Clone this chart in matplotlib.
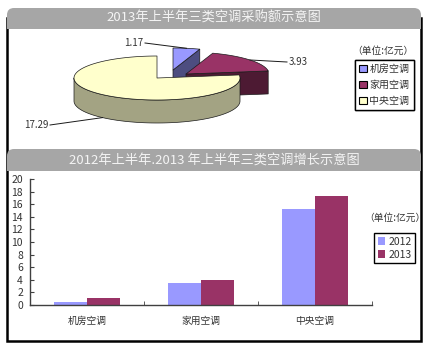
import matplotlib
matplotlib.use("Agg")
import matplotlib.pyplot as plt
import numpy as np
from matplotlib.patches import FancyBboxPatch, Patch, Polygon, Rectangle

plt.rcParams["font.family"] = ["Noto Sans CJK SC", "DejaVu Sans"]

# purchase amounts, unit: 亿元
types = ["机房空调", "家用空调", "中央空调"]
years = ["2012", "2013"]
amount_2012 = [0.5, 3.5, 15.3]
amount_2013 = [1.17, 3.93, 17.29]

pie_title = "2013年上半年三类空调采购额示意图"
bar_title = "2012年上半年.2013 年上半年三类空调增长示意图"
unit_text = "（单位:亿元）"

top_colors = ["#9999ff", "#993366", "#ffffcc"]
side_colors = ["#4d4d80", "#4d1a33", "#a3a383"]
bar_colors = ["#9999ff", "#993366"]
header_color = "#a6a6a6"
text_color = "#333333"

W, H = 429, 348
fig = plt.figure(figsize=(W / 100, H / 100), dpi=100)

# base axes in pixel units: frame, headers and the 3-D pie
base = fig.add_axes([0, 0, 1, 1])
base.set_xlim(0, W)
base.set_ylim(H, 0)
base.axis("off")

base.add_patch(Rectangle((7, 18), 414, 323, fill=False, ec="black", lw=1.8))
for y0, h, title in [(8, 21, pie_title), (149, 22, bar_title)]:
    base.add_patch(FancyBboxPatch((7, y0), 414, h, boxstyle="round,pad=0,rounding_size=7",
                                  fc=header_color, ec="none"))
    base.add_patch(Rectangle((7, y0 + h / 2), 414, h / 2, fc=header_color, ec="none"))
    base.text(214, y0 + h / 2, title, ha="center", va="center", fontsize=9.5, color="#f4f4f4")

# --- 3-D pie ---
cx, cy, rx, ry, depth = 157, 78, 83, 22, 23
explode = [(16, -8), (29, -4), (0, 0)]
fracs = np.array(amount_2013) / sum(amount_2013)
ends = 90 - np.cumsum(fracs) * 360
starts = np.r_[90, ends[:-1]]


def rim(theta, dx, dy, z=0.0):
    t = np.radians(np.atleast_1d(theta))
    return np.column_stack([cx + dx + rx * np.cos(t), cy + dy - ry * np.sin(t) + z])


def face(points, color):
    base.add_patch(Polygon(points, closed=True, fc=color, ec="#1a1a1a", lw=0.5, joinstyle="round"))


for i in range(len(types)):
    dx, dy = explode[i]
    a0, a1 = starts[i], ends[i]
    apex = np.array([[cx + dx, cy + dy]])
    apex_low = apex + [0, depth]
    # outer wall on the front half
    lo, hi = max(a1, -180), min(a0, 0)
    if lo < hi:
        t = np.linspace(hi, lo, 120)
        face(np.vstack([rim(t, dx, dy), rim(t[::-1], dx, dy, depth)]), side_colors[i])
    # radial cut faces that point towards the viewer
    if np.cos(np.radians(a1)) > 0.01:
        face(np.vstack([apex, rim(a1, dx, dy), rim(a1, dx, dy, depth), apex_low]), side_colors[i])
    if np.cos(np.radians(a0)) < -0.01:
        face(np.vstack([apex, rim(a0, dx, dy), rim(a0, dx, dy, depth), apex_low]), side_colors[i])
    t = np.linspace(a0, a1, 150)
    face(np.vstack([apex, rim(t, dx, dy)]), top_colors[i])

label_xy = [(143, 43, "right"), (289, 62, "left"), (48, 125, "right")]
for i, value in enumerate(amount_2013):
    dx, dy = explode[i]
    mid = (starts[i] + ends[i]) / 2
    z = depth if np.sin(np.radians(mid)) < 0 else 0
    ax_, ay_ = rim(mid, dx, dy, z)[0]
    lx, ly, ha = label_xy[i]
    base.plot([lx + (2 if ha == "right" else -2), ax_], [ly, ay_], color="#1a1a1a", lw=0.7)
    base.text(lx, ly, f"{value:.2f}", ha=ha, va="center", fontsize=7, color=text_color)

base.text(383, 51, unit_text, ha="center", va="center", fontsize=7, color=text_color)
pie_handles = [Patch(fc=c, ec="black", lw=0.8) for c in top_colors]
pie_legend = base.legend(pie_handles, types, loc="upper left", bbox_to_anchor=(355, 60),
                         bbox_transform=base.transData, fontsize=7.2, fancybox=False,
                         edgecolor="black", framealpha=1, borderpad=0.4, labelspacing=0.6,
                         handlelength=0.75, handleheight=0.75, handletextpad=0.3,
                         borderaxespad=0)
pie_legend.get_frame().set_linewidth(1.0)
for t in pie_legend.get_texts():
    t.set_color(text_color)
base.add_artist(pie_legend)

# --- grouped bars ---
ax = fig.add_axes([30 / W, 1 - 305 / H, 342 / W, 126 / H])
ax.patch.set_alpha(0)
x = np.arange(len(types))
w = 0.29
ax.bar(x - w / 2, amount_2012, w, color=bar_colors[0], label=years[0])
ax.bar(x + w / 2, amount_2013, w, color=bar_colors[1], label=years[1])
ax.set_xlim(-0.5, len(types) - 0.5)
ax.set_ylim(0, 20)
ax.set_yticks(np.arange(0, 21, 2))
ax.set_xticks(x, types)
ax.set_xticks(np.arange(len(types)) + 0.5, minor=True)
ax.tick_params(axis="y", direction="in", length=3, pad=5, labelsize=7.5, colors="#404040",
               labelcolor=text_color)
ax.tick_params(axis="x", which="major", length=0, pad=8, labelsize=7, labelcolor=text_color)
ax.tick_params(axis="x", which="minor", direction="in", length=3, color="#404040")
for side in ["top", "right"]:
    ax.spines[side].set_visible(False)
for side in ["left", "bottom"]:
    ax.spines[side].set_color("#404040")
    ax.spines[side].set_linewidth(1.0)

base.text(395, 218, unit_text, ha="center", va="center", fontsize=7, color=text_color)
bar_legend = ax.legend(loc="upper left", bbox_to_anchor=(374, 233), bbox_transform=base.transData,
                       fontsize=7.5, fancybox=False, edgecolor="black", framealpha=1,
                       borderpad=0.35, labelspacing=0.3, handlelength=0.75, handleheight=0.75,
                       handletextpad=0.3, borderaxespad=0)
bar_legend.get_frame().set_linewidth(1.0)
for t in bar_legend.get_texts():
    t.set_color(text_color)

fig.savefig("out.png", dpi=100, facecolor="white")
